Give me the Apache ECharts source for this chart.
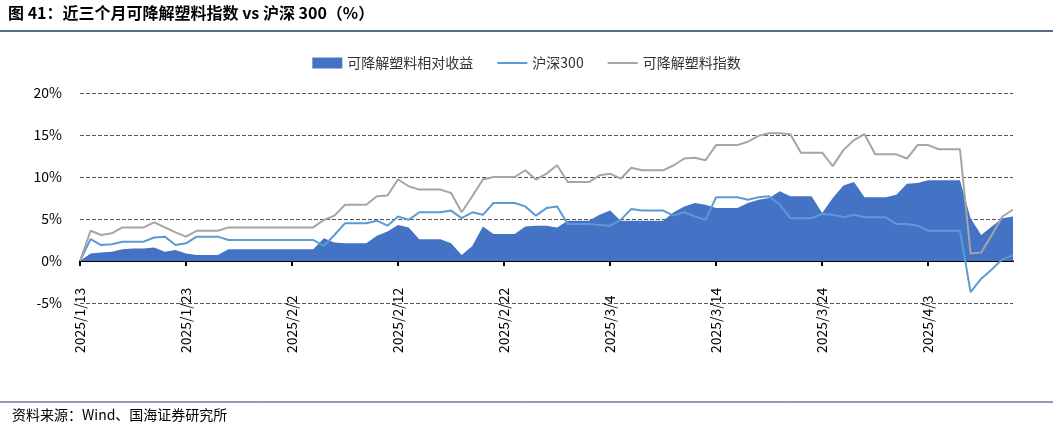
<!DOCTYPE html>
<html><head><meta charset="utf-8">
<script src="https://cdn.jsdelivr.net/npm/echarts@6/dist/echarts.min.js"></script>
<style>html,body{margin:0;padding:0;background:#fff}#c{width:1053px;height:433px}</style>
</head><body><div id="c"></div>
<script>
const gray=[0,3.6,3.1,3.3,4.0,4.0,4.0,4.6,4.0,3.4,2.9,3.6,3.6,3.6,4.0,4.0,4.0,4.0,4.0,4.0,4.0,4.0,4.0,4.9,5.4,6.7,6.7,6.7,7.7,7.8,9.7,8.9,8.5,8.5,8.5,8.1,5.8,7.7,9.7,10.0,10.0,10.0,10.8,9.7,10.4,11.4,9.4,9.4,9.4,10.2,10.4,9.8,11.1,10.8,10.8,10.8,11.4,12.2,12.3,12.0,13.8,13.8,13.8,14.2,14.9,15.2,15.2,15.1,12.9,12.9,12.9,11.3,13.2,14.4,15.1,12.7,12.7,12.7,12.2,13.8,13.8,13.3,13.3,13.3,0.9,1.0,3.1,5.3,6.1];
const hs300=[0,2.6,1.9,2.0,2.3,2.3,2.3,2.8,2.9,1.9,2.1,2.9,2.9,2.9,2.5,2.5,2.5,2.5,2.5,2.5,2.5,2.5,2.5,1.8,3.1,4.5,4.5,4.5,4.8,4.2,5.3,4.9,5.8,5.8,5.8,6.0,5.1,5.8,5.5,6.9,6.9,6.9,6.5,5.4,6.3,6.5,4.4,4.4,4.4,4.3,4.2,4.9,6.2,6.0,6.0,6.0,5.4,5.8,5.3,4.9,7.6,7.6,7.6,7.3,7.6,7.7,6.7,5.1,5.1,5.1,5.6,5.5,5.2,5.5,5.2,5.2,5.2,4.4,4.4,4.2,3.6,3.6,3.6,3.6,-3.7,-2.1,-1.0,0.2,0.7];
const rel=[0,0.9,1.0,1.1,1.4,1.5,1.5,1.6,1.1,1.3,0.9,0.7,0.7,0.7,1.4,1.4,1.4,1.4,1.4,1.4,1.4,1.4,1.4,2.7,2.2,2.1,2.1,2.1,3.0,3.5,4.3,4.0,2.6,2.6,2.6,2.1,0.7,1.8,4.1,3.2,3.2,3.2,4.1,4.2,4.2,4.0,4.8,4.8,4.8,5.5,6.0,4.8,4.8,4.8,4.8,4.8,5.8,6.5,6.9,6.7,6.3,6.3,6.3,6.9,7.3,7.5,8.3,7.7,7.7,7.7,5.7,7.5,9.0,9.4,7.6,7.6,7.6,7.9,9.2,9.3,9.6,9.6,9.6,9.6,5.1,3.1,4.1,5.1,5.3];
const dates=[];(function(){let d=new Date(2025,0,13);for(let i=0;i<gray.length;i++){dates.push(d.getFullYear()+'/'+(d.getMonth()+1)+'/'+d.getDate());d.setDate(d.getDate()+1);}})();
const yTicks=[-5,0,5,10,15,20];
const ch=echarts.init(document.getElementById('c'));
const ff='"Noto Sans CJK SC", "Noto Sans", sans-serif';
ch.setOption({
animation:false,
textStyle:{fontFamily:ff},
graphic:[
{type:'text',left:8,top:5,style:{text:'图 41：近三个月可降解塑料指数 vs 沪深 300（%）',font:'bold 16px '+ff,fill:'#000'}},
{type:'line',shape:{x1:0,y1:31,x2:1053,y2:31},style:{stroke:'#1f3864',lineWidth:1.5}},
{type:'line',shape:{x1:0,y1:402,x2:1053,y2:402},style:{stroke:'#1f3864',lineWidth:1}},
{type:'text',left:12,top:408,style:{text:'资料来源：Wind、国海证券研究所',font:'14px '+ff,fill:'#000'}}
],
legend:{top:51,left:'center',itemGap:24,itemWidth:30,itemHeight:11,textStyle:{fontSize:14,color:'#333'},
 data:[{name:'可降解塑料相对收益',icon:'rect'},{name:'沪深300',icon:'path://M0,4L30,4L30,6L0,6Z'},{name:'可降解塑料指数',icon:'path://M0,4L30,4L30,6L0,6Z'}]},
grid:{left:80,right:40,top:93,bottom:130},
xAxis:{type:'category',data:dates,boundaryGap:false,
 axisLine:{onZero:true,lineStyle:{color:'#000',width:2}},
 axisTick:{interval:9,inside:false,length:5,lineStyle:{color:'#000',width:2}},
 axisLabel:{interval:9,rotate:90,fontSize:14,color:'#000',margin:50,align:'left'},
 splitLine:{show:false}},
yAxis:{type:'value',min:-5,max:20,interval:5,axisLabel:{formatter:v=>yTicks.includes(v)?v+'%':'',fontSize:14,color:'#000',margin:18},
 axisLine:{show:false},axisTick:{show:false},splitLine:{lineStyle:{type:'dashed',color:'#555',width:1}}},
series:[
{name:'可降解塑料相对收益',type:'line',data:rel,symbol:'none',lineStyle:{width:0},areaStyle:{color:'#4472c4',opacity:1},itemStyle:{color:'#4472c4'}},
{name:'沪深300',type:'line',data:hs300,symbol:'none',lineStyle:{width:2,color:'#5b9bd5'},itemStyle:{color:'#5b9bd5'}},
{name:'可降解塑料指数',type:'line',data:gray,symbol:'none',lineStyle:{width:2,color:'#a5a5a5'},itemStyle:{color:'#a5a5a5'}}
]});
</script></body></html>
